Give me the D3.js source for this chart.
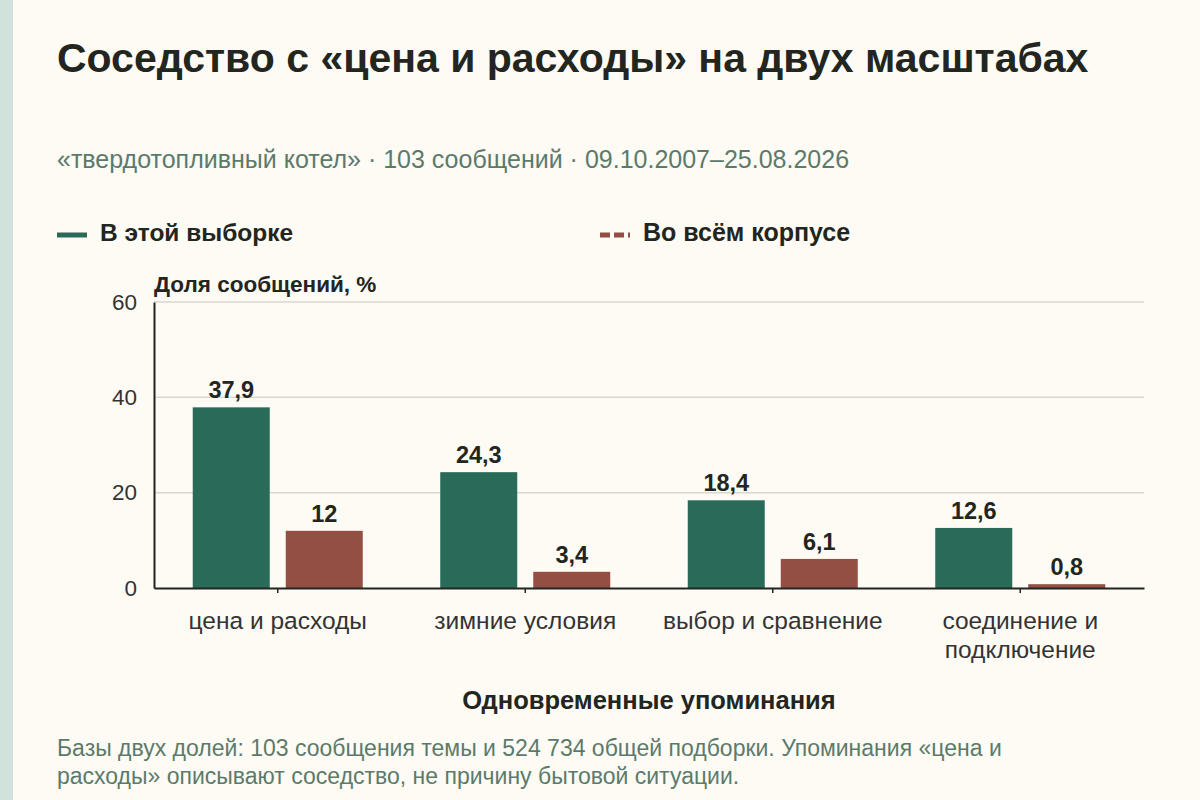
<!DOCTYPE html>
<html lang="ru">
<head>
<meta charset="UTF-8">
<title>Соседство с «цена и расходы»</title>
<script src="https://d3js.org/d3.v7.min.js"></script>
<style>
  html, body { margin: 0; padding: 0; background: #fdfbf4; }
  svg { display: block; font-family: "Liberation Sans", Arial, sans-serif; }
</style>
</head>
<body>
<svg id="chart" width="1200" height="800"></svg>
<script>
// data
const categories = [["цена и расходы"], ["зимние условия"], ["выбор и сравнение"], ["соединение и", "подключение"]];
const sampleShare = [37.9, 24.3, 18.4, 12.6];
const corpusShare = [12, 3.4, 6.1, 0.8];
const seriesNames = ["В этой выборке", "Во всём корпусе"];
const yTicks = [0, 20, 40, 60];

const green = "#2a6a59", red = "#934f44", ink = "#222520", muted = "#5c7a6c";

const svg = d3.select("#chart");
svg.append("rect").attr("width", 1200).attr("height", 800).attr("fill", "#fdfbf4");
svg.append("rect").attr("width", 13).attr("height", 800).attr("fill", "#cfe3dc");

// header
svg.append("text").attr("x", 57).attr("y", 72)
  .attr("font-size", 41).attr("font-weight", "bold").attr("fill", ink)
  .text("Соседство с «цена и расходы» на двух масштабах");
svg.append("text").attr("x", 57).attr("y", 168)
  .attr("font-size", 25).attr("fill", muted)
  .text("«твердотопливный котел» · 103 сообщений · 09.10.2007–25.08.2026");

// legend
const lg = svg.append("g");
lg.append("line").attr("x1", 57).attr("x2", 87).attr("y1", 235).attr("y2", 235)
  .attr("stroke", green).attr("stroke-width", 5);
lg.append("text").attr("x", 100).attr("y", 241).attr("font-size", 24.5).attr("font-weight", "bold")
  .attr("fill", ink).text(seriesNames[0]);
lg.append("line").attr("x1", 600).attr("x2", 630).attr("y1", 235).attr("y2", 235)
  .attr("stroke", red).attr("stroke-width", 5).attr("stroke-dasharray", "10,4");
lg.append("text").attr("x", 643).attr("y", 241).attr("font-size", 25).attr("font-weight", "bold")
  .attr("fill", ink).text(seriesNames[1]);

// scales
const pLeft = 154, pRight = 1144, pTop = 302, pBottom = 588;
const x = d3.scaleBand().domain(d3.range(categories.length)).range([pLeft, pRight]).padding(0);
const y = d3.scaleLinear().domain([0, 60]).range([pBottom, pTop]);
const barW = 77, gap = 16;

// grid
svg.append("g").selectAll("line").data(yTicks.filter(d => d > 0)).join("line")
  .attr("x1", pLeft).attr("x2", pRight).attr("y1", d => y(d)).attr("y2", d => y(d))
  .attr("stroke", "#d9d7d0").attr("stroke-width", 1.5);

// y axis
const yAxis = svg.append("g").attr("transform", `translate(${pLeft},0)`)
  .call(d3.axisLeft(y).tickValues(yTicks).tickSize(0).tickPadding(17));
yAxis.select(".domain").attr("stroke", ink).attr("stroke-width", 2);
yAxis.selectAll("text").attr("font-size", 22.5).attr("fill", "#333").attr("font-family", "Liberation Sans, Arial, sans-serif");

svg.append("text").attr("x", pLeft).attr("y", 292).attr("font-size", 22.5).attr("font-weight", "bold")
  .attr("fill", ink).text("Доля сообщений, %");

// bars
const groups = svg.append("g").selectAll("g").data(categories.map((c, i) => i)).join("g")
  .attr("transform", i => `translate(${x(i) + x.bandwidth() / 2},0)`);

groups.append("rect")
  .attr("x", -barW - gap / 2).attr("width", barW)
  .attr("y", i => y(sampleShare[i])).attr("height", i => y(0) - y(sampleShare[i]))
  .attr("fill", green);
groups.append("rect")
  .attr("x", gap / 2).attr("width", barW)
  .attr("y", i => y(corpusShare[i])).attr("height", i => y(0) - y(corpusShare[i]))
  .attr("fill", red);

const fmt = v => String(v).replace(".", ",");
groups.append("text").attr("x", -barW / 2 - gap / 2).attr("y", i => y(sampleShare[i]) - 9)
  .attr("text-anchor", "middle").attr("font-size", 23.5).attr("font-weight", "bold").attr("fill", ink)
  .text(i => fmt(sampleShare[i]));
groups.append("text").attr("x", barW / 2 + gap / 2).attr("y", i => y(corpusShare[i]) - 9)
  .attr("text-anchor", "middle").attr("font-size", 23.5).attr("font-weight", "bold").attr("fill", ink)
  .text(i => fmt(corpusShare[i]));

// x axis
const xAxis = svg.append("g").attr("transform", `translate(0,${pBottom})`)
  .call(d3.axisBottom(x).tickSize(5).tickSizeOuter(0).tickFormat(""));
xAxis.select(".domain").attr("stroke", ink).attr("stroke-width", 2);
xAxis.selectAll(".tick line").attr("stroke", ink).attr("stroke-width", 1.5);

const labels = svg.append("g").selectAll("text").data(categories.map((c, i) => i)).join("text")
  .attr("x", i => x(i) + x.bandwidth() / 2).attr("y", 629)
  .attr("text-anchor", "middle").attr("font-size", 24.5).attr("fill", "#333");
labels.selectAll("tspan").data(i => categories[i].map(t => ({ t, x: x(i) + x.bandwidth() / 2 }))).join("tspan")
  .attr("x", d => d.x).attr("dy", (d, k) => k === 0 ? 0 : 29).text(d => d.t);

svg.append("text").attr("x", (pLeft + pRight) / 2).attr("y", 709)
  .attr("text-anchor", "middle").attr("font-size", 25.5).attr("font-weight", "bold").attr("fill", ink)
  .text("Одновременные упоминания");

// footnote
const note = svg.append("text").attr("x", 57).attr("y", 756).attr("font-size", 23).attr("fill", muted);
note.append("tspan").attr("x", 57).text("Базы двух долей: 103 сообщения темы и 524 734 общей подборки. Упоминания «цена и");
note.append("tspan").attr("x", 57).attr("dy", 28).text("расходы» описывают соседство, не причину бытовой ситуации.");
</script>
</body>
</html>
